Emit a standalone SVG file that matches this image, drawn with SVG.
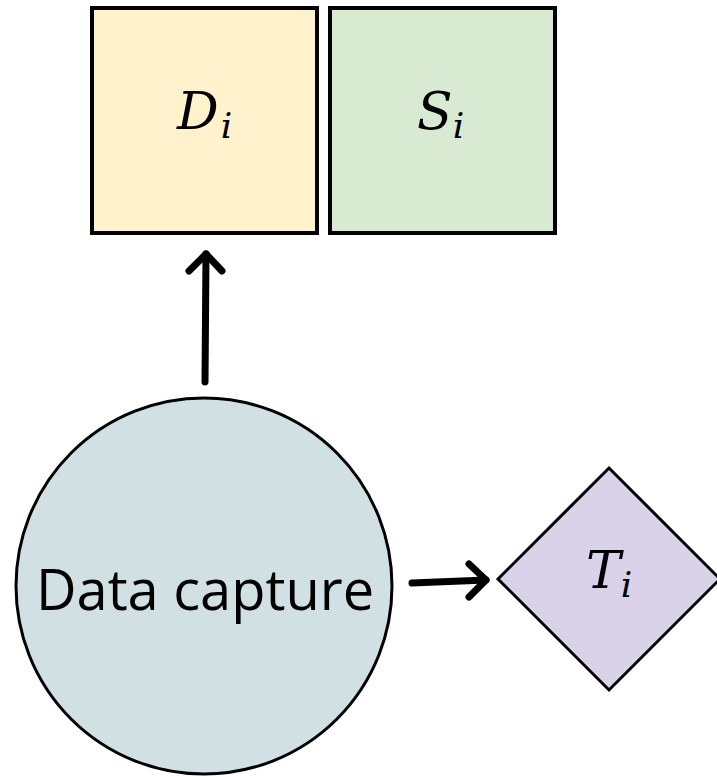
<svg xmlns="http://www.w3.org/2000/svg" width="717" height="777" viewBox="0 0 717 777">
  <style>
    .box { stroke: #000; stroke-width: 4; }
    .shape { stroke: #000; stroke-width: 3; }
    .math { font-family: "DejaVu Serif", serif; font-style: italic; font-size: 52px; fill: #000; }
    .sub { font-size: 36px; }
    .label { font-family: "Open Sans", "Noto Sans", sans-serif; font-size: 56px; fill: #000; }
    .conn { fill: none; stroke: #000; stroke-width: 7; stroke-linecap: round; stroke-linejoin: round; }
  </style>
  <rect width="717" height="777" fill="#fff"/>

  <g id="node-d">
    <rect class="box" x="92" y="8" width="225" height="225" fill="#fff2cc"/>
    <text class="math" x="177" y="129">D<tspan class="sub" dy="9" dx="2">i</tspan></text>
  </g>

  <g id="node-s">
    <rect class="box" x="330" y="8" width="225" height="225" fill="#d9ead3"/>
    <text class="math" x="417" y="129">S<tspan class="sub" dy="9">i</tspan></text>
  </g>

  <g id="node-capture">
    <circle class="shape" cx="204" cy="586" r="188" fill="#d0e0e3"/>
    <text class="label" x="205" y="610" text-anchor="middle">Data capture</text>
  </g>

  <g id="node-t">
    <polygon class="shape" points="498,579 609,468 720,579 609,690" fill="#d9d2e9"/>
    <text class="math" x="586" y="588">T<tspan class="sub" dy="9">i</tspan></text>
  </g>

  <g id="connectors">
    <path class="conn" d="M205,382 L206,254"/>
    <path class="conn" d="M189,271 L206,254 L222,271"/>
    <path class="conn" d="M412,583 L486,580"/>
    <path class="conn" d="M469,564 L486,580 L469,597"/>
  </g>
</svg>
